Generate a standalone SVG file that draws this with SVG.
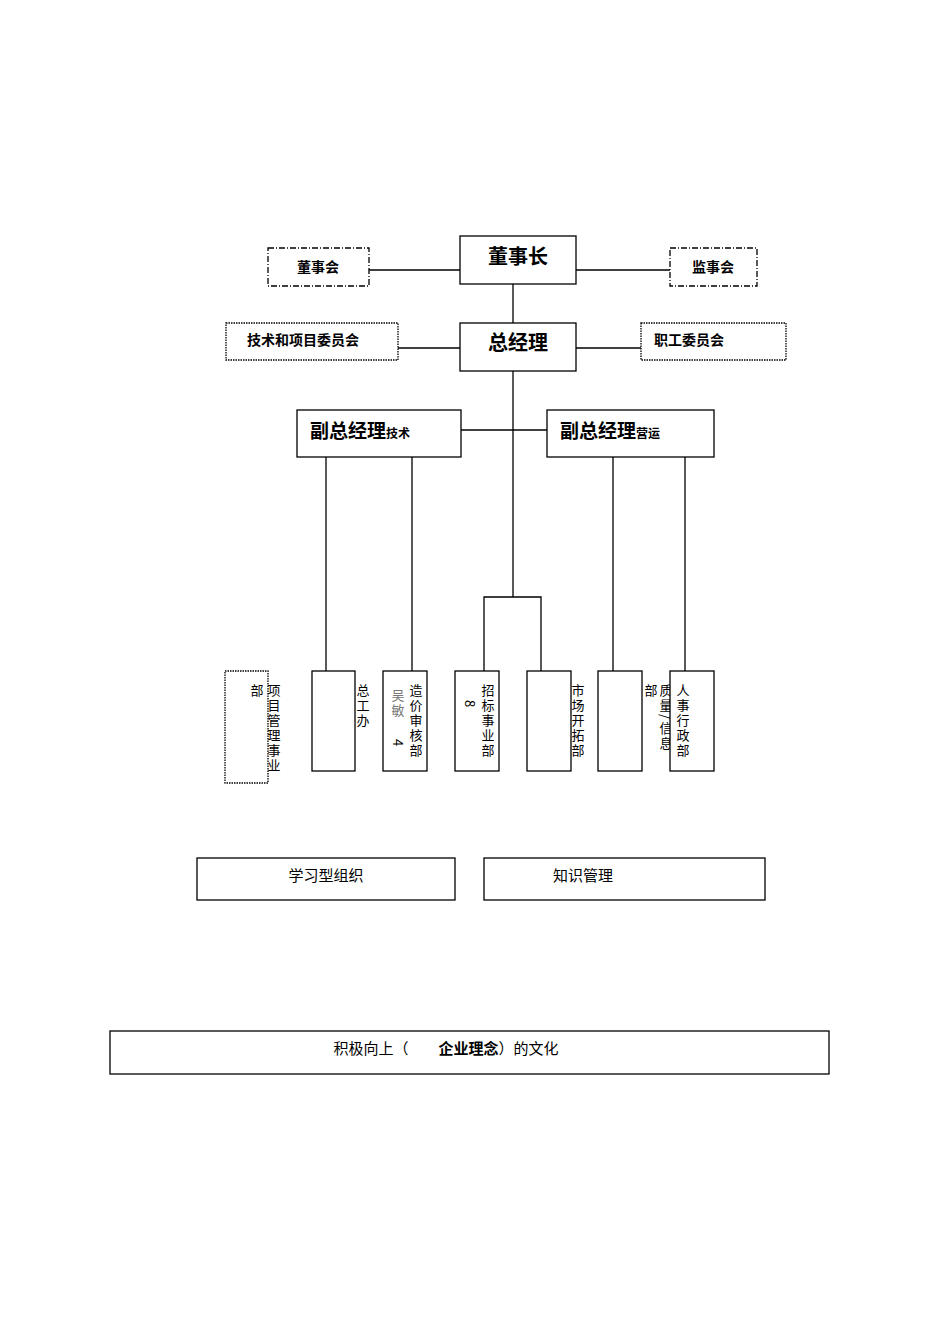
<svg xmlns="http://www.w3.org/2000/svg" width="950" height="1344" viewBox="0 0 950 1344">
<style>
rect{fill:#fff;stroke:#000;stroke-width:1.3}
.dd{stroke-dasharray:6,2,1,2}
.dot{stroke-dasharray:1.5,1}
line,polyline{stroke:#000;stroke-width:1.3;fill:none}
text{font-family:"Noto Sans CJK SC","Liberation Sans",sans-serif;fill:#000}
.b{font-weight:bold}
.v{font-size:13px;writing-mode:vertical-rl;letter-spacing:2px}
</style>
<rect width="950" height="1344" style="stroke:none"/>
<g id="connectors">
<line x1="369" y1="270" x2="460" y2="270"/>
<line x1="576" y1="270" x2="670" y2="270"/>
<line x1="513" y1="284" x2="513" y2="323"/>
<line x1="398" y1="348" x2="460" y2="348"/>
<line x1="576" y1="348" x2="641" y2="348"/>
<line x1="513" y1="371" x2="513" y2="597"/>
<line x1="461" y1="430" x2="547" y2="430"/>
<line x1="326" y1="457" x2="326" y2="671"/>
<line x1="412" y1="457" x2="412" y2="671"/>
<line x1="613" y1="457" x2="613" y2="671"/>
<line x1="685" y1="457" x2="685" y2="671"/>
<polyline points="484,671 484,597 541,597 541,671"/>
</g>
<g id="dsz"><rect x="460" y="236" width="116" height="48"/><text x="518" y="264" class="b" font-size="20" text-anchor="middle">董事长</text></g>
<g id="dsh"><rect class="dd" x="268" y="248" width="101" height="38"/><text x="318" y="272" class="b" font-size="14" text-anchor="middle">董事会</text></g>
<g id="jsh"><rect class="dd" x="670" y="248" width="87" height="38"/><text x="713" y="272" class="b" font-size="14" text-anchor="middle">监事会</text></g>
<g id="zjl"><rect x="460" y="323" width="116" height="48"/><text x="518" y="350" class="b" font-size="20" text-anchor="middle">总经理</text></g>
<g id="jswyh"><rect class="dot" x="226" y="323" width="172" height="37"/><text x="303" y="345" class="b" font-size="14" text-anchor="middle">技术和项目委员会</text></g>
<g id="zgwyh"><rect class="dot" x="641" y="323" width="145" height="37"/><text x="654" y="345" class="b" font-size="14">职工委员会</text></g>
<g id="fzjs"><rect x="297" y="410" width="164" height="47"/><text x="310" y="438" class="b" font-size="19">副总经理<tspan font-size="12">技术</tspan></text></g>
<g id="fzyy"><rect x="547" y="410" width="167" height="47"/><text x="560" y="438" class="b" font-size="19">副总经理<tspan font-size="12">营运</tspan></text></g>
<g id="xmgl"><rect class="dot" x="225" y="671" width="43" height="112"/>
<text class="v" x="257" y="684">部</text>
<text class="v" x="274" y="684">项目管理事业</text></g>
<g id="zgb"><rect x="312" y="671" width="43" height="100"/>
<text class="v" x="363" y="684">总工办</text></g>
<g id="zjsh"><rect x="383" y="671" width="44" height="100"/>
<text class="v" x="416" y="684">造价审核部</text>
<text class="v" x="398" y="689" style="fill:#777">吴敏</text>
<text class="v" x="398" y="739">4</text></g>
<g id="zbsy"><rect x="455" y="671" width="44" height="100"/>
<text class="v" x="488" y="684">招标事业部</text>
<text class="v" x="470" y="700">8</text></g>
<g id="sckt"><rect x="527" y="671" width="44" height="100"/>
<text class="v" x="578" y="684">市场开拓部</text></g>
<g id="zlxx"><rect x="598" y="671" width="44" height="100"/>
<text class="v" x="651" y="684">部</text>
<text class="v" x="666" y="684">质量/信息</text></g>
<g id="rsxz"><rect x="670" y="671" width="44" height="100"/>
<text class="v" x="683" y="684">人事行政部</text></g>
<g id="xxxzz"><rect x="197" y="858" width="258" height="42"/><text x="326" y="881" font-size="15" text-anchor="middle">学习型组织</text></g>
<g id="zsgl"><rect x="484" y="858" width="281" height="42"/><text x="583" y="881" font-size="15" text-anchor="middle">知识管理</text></g>
<g id="qywh"><rect x="110" y="1031" width="719" height="43"/><text x="446" y="1054" font-size="15" text-anchor="middle">积极向上（　　<tspan class="b">企业理念</tspan>）的文化</text></g>
</svg>
